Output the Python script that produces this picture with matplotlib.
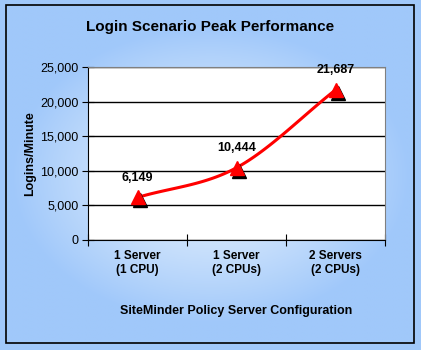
import matplotlib.pyplot as plt
import matplotlib.transforms as mtrans
import numpy as np

plt.rcParams['font.family'] = ['Liberation Sans', 'DejaVu Sans']

categories = ["1 Server\n(1 CPU)", "1 Server\n(2 CPUs)", "2 Servers\n(2 CPUs)"]
logins = [6149, 10444, 21687]
value_labels = ["6,149", "10,444", "21,687"]
yticks = [0, 5000, 10000, 15000, 20000, 25000]
ytick_labels = ["0", "5,000", "10,000", "15,000", "20,000", "25,000"]

W, H = 421, 350
fig = plt.figure(figsize=(W / 100, H / 100), dpi=100)

# background gradient
bg = fig.add_axes([0, 0, 1, 1])
gx, gy = np.meshgrid(np.linspace(-1, 1, 200), np.linspace(-1, 1, 200))
r = np.clip(np.sqrt((gx / 0.95) ** 2 + (gy / 0.85) ** 2), 0, 1)
c_out = np.array([160, 200, 250]) / 255
c_in = np.array([228, 240, 253]) / 255
img = c_in[None, None, :] * (1 - r[..., None] ** 1.3) + c_out[None, None, :] * r[..., None] ** 1.3
bg.imshow(img, extent=[0, 1, 0, 1], aspect='auto')
bg.add_patch(plt.Rectangle((6 / W, 1 - 343 / H), 408 / W, 338 / H, fill=False,
                           edgecolor='black', lw=1.2))
bg.set_xlim(0, 1)
bg.set_ylim(0, 1)
bg.axis('off')

ax = fig.add_axes([88 / W, 1 - 240 / H, 297 / W, 173 / H])
ax.set_facecolor('white')
x = np.arange(len(logins))

# smooth line through points (Catmull-Rom)
px = np.concatenate([[2 * x[0] - x[1]], x, [2 * x[-1] - x[-2]]]).astype(float)
py = np.concatenate([[2 * logins[0] - logins[1]], logins, [2 * logins[-1] - logins[-2]]]).astype(float)
sx, sy = [], []
for i in range(1, len(px) - 2):
    t = np.linspace(0, 1, 40)
    for arr, out in ((px, sx), (py, sy)):
        p0, p1, p2, p3 = arr[i - 1], arr[i], arr[i + 1], arr[i + 2]
        out.extend(0.5 * ((2 * p1) + (-p0 + p2) * t + (2 * p0 - 5 * p1 + 4 * p2 - p3) * t ** 2
                          + (-p0 + 3 * p1 - 3 * p2 + p3) * t ** 3))
ax.plot(np.array(sx) + 0.5, sy, color='#ff0000', lw=2.2, zorder=3)

shadow = ax.transData + mtrans.ScaledTranslation(2 / 72, -2 / 72, fig.dpi_scale_trans)
ax.plot(x + 0.5, logins, '^', ms=10, color='black', transform=shadow, zorder=4)
ax.plot(x + 0.5, logins, '^', ms=10, color='#ff0000', mec='#ff0000', zorder=5)

for xi, v, lab in zip(x, logins, value_labels):
    ax.annotate(lab, (xi + 0.5, v), xytext=(0, 10), textcoords='offset points',
                ha='center', va='bottom', fontsize=9, fontweight='bold')

ax.set_xlim(0, 3)
ax.set_ylim(0, 25000)
ax.set_yticks(yticks)
ax.set_yticklabels(ytick_labels, fontsize=9)
ax.set_xticks([0, 1, 2, 3])
ax.set_xticklabels([])
ax.set_xticks(x + 0.5, minor=True)
ax.set_xticklabels(categories, minor=True, fontsize=8.5, fontweight='bold')
ax.tick_params(axis='x', which='minor', length=0, pad=7)
ax.tick_params(axis='x', which='major', direction='inout', length=8)
ax.tick_params(axis='y', direction='inout', length=8, pad=3)
ax.grid(axis='y', color='black', lw=1)
ax.set_axisbelow(True)
for s in ['top', 'right']:
    ax.spines[s].set_color('#808080')
ax.spines['left'].set_color('black')
ax.spines['bottom'].set_color('black')

ax.set_ylabel("Logins/Minute", fontsize=9, fontweight='bold', labelpad=3)
ax.set_xlabel("SiteMinder Policy Server Configuration", fontsize=9, fontweight='bold', labelpad=21)
fig.text(210 / W, 1 - 27 / H, "Login Scenario Peak Performance", ha='center', va='center',
         fontsize=11, fontweight='bold')

fig.savefig('out.png', dpi=100)
